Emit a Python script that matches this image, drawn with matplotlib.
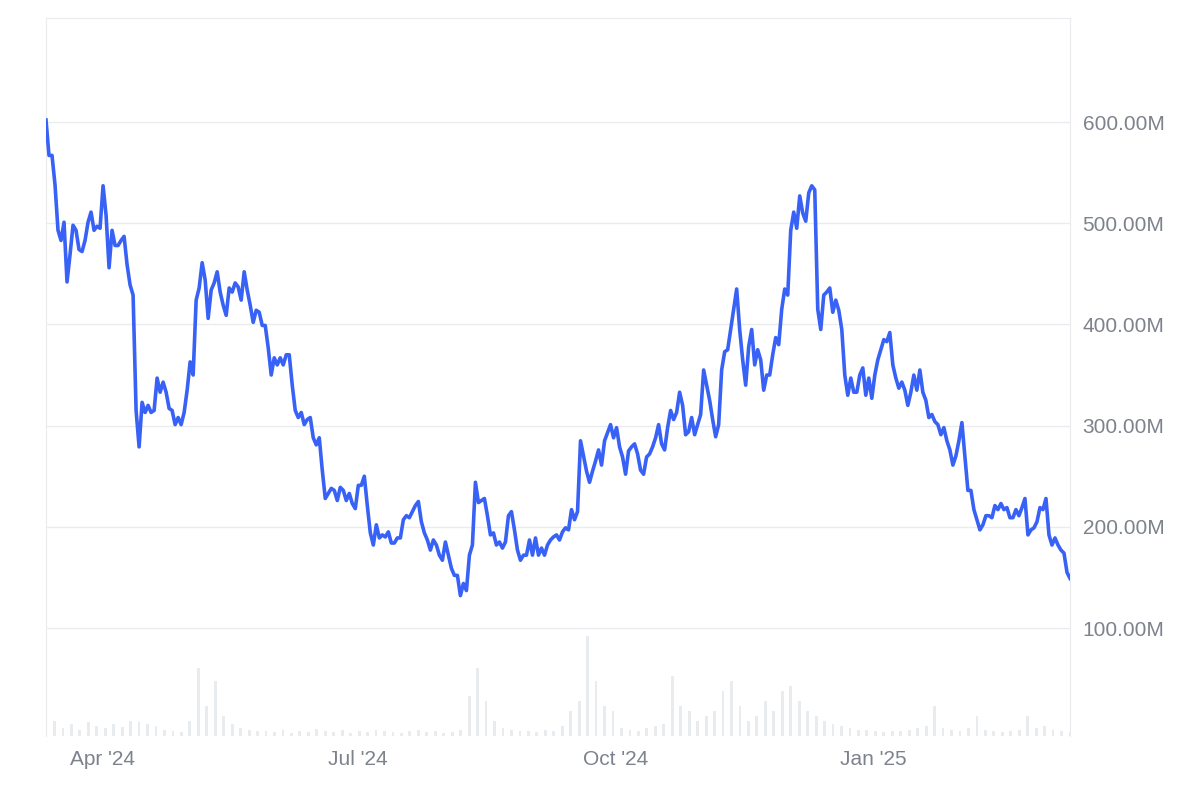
import matplotlib
matplotlib.use("Agg")
import matplotlib.pyplot as plt
import matplotlib.dates as mdates
import numpy as np
import pandas as pd
from matplotlib.ticker import FuncFormatter

price_m = [602,567,567,538,493,483,501,442,469,498,493,474,472,483,501,511,493,497,495,537,508,456,493,478,478,483,487,459,439,429,
315,279,323,313,320,313,315,347,333,343,333,317,315,301,308,301,313,335,363,350,424,436,461,444,406,434,441,452,432,419,
409,436,432,441,437,424,452,434,419,402,414,412,399,399,377,350,367,360,367,360,370,370,340,315,308,313,301,306,308,288,
281,288,256,228,233,238,236,226,239,236,226,233,223,218,241,241,250,221,194,182,202,189,192,190,195,184,184,189,189,207,
211,209,215,221,225,205,194,187,177,187,182,172,167,185,172,159,152,152,132,144,137,172,182,244,224,226,228,211,192,194,
182,185,179,185,211,215,197,177,167,172,172,187,172,189,172,179,172,182,187,190,192,187,195,199,197,217,207,215,285,270,
255,244,255,265,276,261,285,293,301,288,298,279,269,252,275,279,282,272,256,252,269,272,279,288,301,282,276,298,315,306,
313,333,320,291,294,308,291,301,311,355,340,325,306,289,301,355,373,375,395,415,435,395,365,340,378,395,360,375,365,335,
350,350,370,387,380,415,435,429,493,511,495,527,510,502,530,537,533,415,395,429,432,436,412,424,414,395,350,330,347,333,
333,350,357,330,347,327,350,365,375,385,383,392,360,347,337,343,335,320,333,350,335,355,333,325,308,311,304,301,291,298,
285,276,261,270,285,303,270,236,236,217,207,197,202,211,211,209,221,217,223,217,219,209,209,217,211,219,228,192,197,199,
205,219,217,228,192,182,189,182,177,174,155,149]

volume_m = [10,15,8,12,6,14,10,8,12,9,15,14,12,10,6,5,4,15,68,30,55,20,12,8,6,5,
5,4,6,3,5,4,7,5,4,6,3,5,4,6,5,4,3,5,6,4,5,3,4,6,
40,68,35,15,8,6,5,5,4,6,5,10,25,35,100,55,30,25,8,6,5,8,10,12,
60,30,25,15,20,25,45,55,30,15,20,35,25,45,50,35,25,20,15,12,10,8,6,6,5,4,5,
5,6,8,10,30,8,6,5,8,20,6,5,4,5,6,20,8,10,6,5,4]

tick_values = [100, 200, 300, 400, 500, 600]

start, end = pd.Timestamp("2024-03-12"), pd.Timestamp("2025-03-12")
pdates = pd.date_range(start, end, periods=len(price_m))
vdates = pd.date_range(start, end, periods=len(volume_m))

fig = plt.figure(figsize=(11.98, 7.99), dpi=100)
ax = fig.add_axes([46/1198, 63/799, 1024/1198, 718/799])
axv = ax.twinx()

axv.bar(vdates, volume_m, width=1.0, color="#e9ecef", zorder=1)
axv.set_ylim(0, 718)
axv.set_yticks([])
for s in axv.spines.values():
    s.set_visible(False)

ax.set_zorder(axv.get_zorder() + 1)
ax.patch.set_visible(False)
ax.plot(pdates, price_m, color="#3861f6", lw=2.6, zorder=3)
ax.set_xlim(start, end)
ax.set_ylim(-6.7, 702.8)
ax.set_yticks(tick_values)
ax.yaxis.tick_right()
ax.yaxis.set_major_formatter(FuncFormatter(lambda v, p: f"{v:.2f}M"))
ax.grid(axis="y", color="#e9ebee", lw=1)
ax.xaxis.set_major_locator(mdates.MonthLocator(bymonth=[1, 4, 7, 10]))
ax.xaxis.set_major_formatter(FuncFormatter(lambda v, p: mdates.num2date(v).strftime("%b '%y")))
ax.tick_params(axis="y", length=0, labelsize=15, labelcolor="#7d828c", pad=9)
ax.tick_params(axis="x", length=0, labelsize=15, labelcolor="#7d828c", pad=10)
for lab in ax.get_xticklabels() + ax.get_yticklabels():
    lab.set_family("Liberation Sans")
for side in ["left", "right", "top"]:
    ax.spines[side].set_color("#e9ebee")
ax.spines["bottom"].set_visible(False)

fig.savefig("out.png", dpi=100, facecolor="white")
